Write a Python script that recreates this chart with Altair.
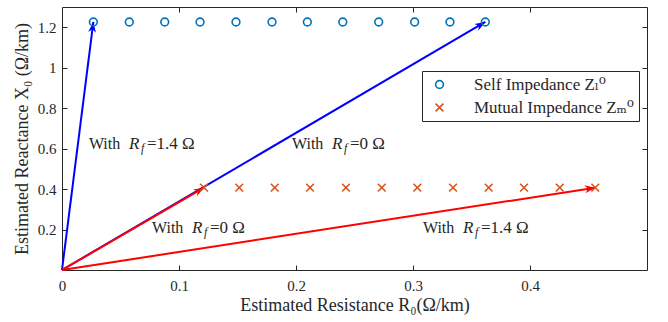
import math
import altair as alt
import pandas as pd

# ---------------- data ----------------
self_R = [0.0268, 0.0575, 0.0878, 0.1180, 0.1487, 0.1795, 0.2097, 0.2400, 0.2707, 0.3014, 0.3316, 0.3618]
self_X = [1.226, 1.226, 1.226, 1.226, 1.226, 1.226, 1.226, 1.226, 1.226, 1.226, 1.226, 1.226]
mut_R = [0.1214, 0.1515, 0.1818, 0.2120, 0.2427, 0.2733, 0.3037, 0.3342, 0.3647, 0.3949, 0.4254, 0.4558]
mut_X = [0.407, 0.407, 0.407, 0.407, 0.407, 0.407, 0.407, 0.407, 0.407, 0.407, 0.407, 0.407]

arrow_R = [0.0268, 0.3618, 0.1214, 0.4558]
arrow_X = [1.226, 1.226, 0.407, 0.407]
arrow_color = ["#0000FF", "#0000FF", "#FF0000", "#FF0000"]

ann_R = [0.0230, 0.1966, 0.0769, 0.3085]
ann_X = [0.625, 0.625, 0.207, 0.207]
ann_val = ["=1.4 Ω", "=0 Ω", "=0 Ω", "=1.4 Ω"]

x_ticks = [0, 0.1, 0.2, 0.3, 0.4]
y_ticks = [0.2, 0.4, 0.6, 0.8, 1.0, 1.2]

SELF = "Self Impedance Zₗ⁰"
MUT = "Mutual Impedance Zₘ⁰"

# ---------------- layout ----------------
W, H = 585, 263
XD, YD = [0, 0.5], [0, 1.3]
FONT = "Liberation Serif"
LFONT = "Liberation Serif, DejaVu Serif, serif"
INK = "#262626"

xs = alt.Scale(domain=XD, nice=False, zero=False)
ys = alt.Scale(domain=YD, nice=False, zero=False)

pts = pd.DataFrame({
    "R": self_R + mut_R,
    "X": self_X + mut_X,
    "kind": [SELF] * len(self_R) + [MUT] * len(mut_R),
})

arrows = pd.DataFrame({
    "R0": [0] * len(arrow_R),
    "X0": [0] * len(arrow_R),
    "R": arrow_R,
    "X": arrow_X,
    "c": arrow_color,
    "order": list(range(len(arrow_R))),
})
arrows["ang"] = [
    (math.degrees(math.atan2(-(x / YD[1]) * H, (r / XD[1]) * W)) + 360) % 360
    for r, x in zip(arrow_R, arrow_X)
]

ann = pd.DataFrame({"R": ann_R, "X": ann_X, "val": ann_val})

axis_common = dict(
    grid=False, domain=False, tickColor=INK, tickSize=5, offset=-5,
    labelColor=INK, labelFont=FONT, labelFontSize=15, titleColor=INK,
    titleFont=LFONT, titleFontSize=18, titleFontWeight="normal", format="~g",
)

lines = alt.Chart(arrows).mark_rule(strokeWidth=2).encode(
    x=alt.X("R0:Q", scale=xs, axis=alt.Axis(
        orient="bottom", values=x_ticks, title="Estimated Resistance R₀(Ω/km)",
        labelPadding=8, titlePadding=3, labelFlush=False, **axis_common)),
    y=alt.Y("X0:Q", scale=ys, axis=alt.Axis(
        orient="left", values=y_ticks, title="Estimated Reactance X₀ (Ω/km)",
        labelPadding=6, titlePadding=6, labelFlush=False, **axis_common)),
    x2="R:Q", y2="X:Q",
    color=alt.Color("c:N", scale=None),
    order="order:Q",
)

heads = alt.Chart(arrows).mark_point(
    shape="M0,0L-2,-0.75L-1.4,0L-2,0.75Z", size=110, filled=True, opacity=1, strokeWidth=0
).encode(
    x=alt.X("R:Q", scale=xs, axis=None),
    y=alt.Y("X:Q", scale=ys, axis=None),
    color=alt.Color("c:N", scale=None),
    angle=alt.Angle("ang:Q", scale=None),
)

box_axis = dict(
    grid=False, domain=False, tickColor=INK, tickSize=5, offset=-5,
    labels=False, title=None,
)

points = alt.Chart(pts).mark_point(filled=False, size=60, strokeWidth=1.6, opacity=1).encode(
    x=alt.X("R:Q", scale=xs, axis=alt.Axis(orient="top", values=x_ticks[1:], **box_axis)),
    y=alt.Y("X:Q", scale=ys, axis=alt.Axis(orient="right", values=y_ticks, **box_axis)),
    color=alt.Color("kind:N", scale=alt.Scale(domain=[SELF, MUT], range=["#0072BD", "#D95319"]),
                    legend=alt.Legend(
                        title=None, orient="none", legendX=360, legendY=64,
                        strokeColor=INK, fillColor="white", padding=5,
                        labelFont=LFONT, labelFontSize=17, labelColor=INK,
                        symbolSize=60, symbolStrokeWidth=1.6, rowPadding=5,
                        symbolOffset=4, labelOffset=26, cornerRadius=0)),
    shape=alt.Shape("kind:N", scale=alt.Scale(domain=[SELF, MUT],
                                               range=["circle", "M-1,-1L1,1M-1,1L1,-1"])),
)

def seg(dx, dy, field=None, value=None, size=16, style="normal"):
    m = alt.Chart(ann).mark_text(align="left", baseline="middle", font=FONT, fontSize=size,
                                 fontStyle=style, color=INK, dx=dx, dy=dy)
    enc = dict(x=alt.X("R:Q", scale=xs, axis=None), y=alt.Y("X:Q", scale=ys, axis=None))
    if field:
        enc["text"] = alt.Text(field + ":N")
    else:
        enc["text"] = alt.value(value)
    return m.encode(**enc)

t1 = seg(0, 0, value="With")
t2 = seg(40, 0, value="R", size=17, style="italic")
t3 = seg(52, 4, value="f", size=12, style="italic")
t4 = seg(58, 0, field="val", size=17)

chart = alt.layer(lines, heads, points, t1, t2, t3, t4).resolve_axis(
    x="independent", y="independent"
).properties(
    width=W, height=H,
    autosize=alt.AutoSizeParams(type="none"),
    padding={"left": 62, "top": 7, "right": 21, "bottom": 52},
).configure(
    font=FONT
).configure_view(
    stroke=INK, strokeWidth=1
).configure_legend(
    labelFont=LFONT, labelFontSize=17, labelColor=INK
)

chart.save("out.html", embed_options={"renderer": "svg", "actions": False})
